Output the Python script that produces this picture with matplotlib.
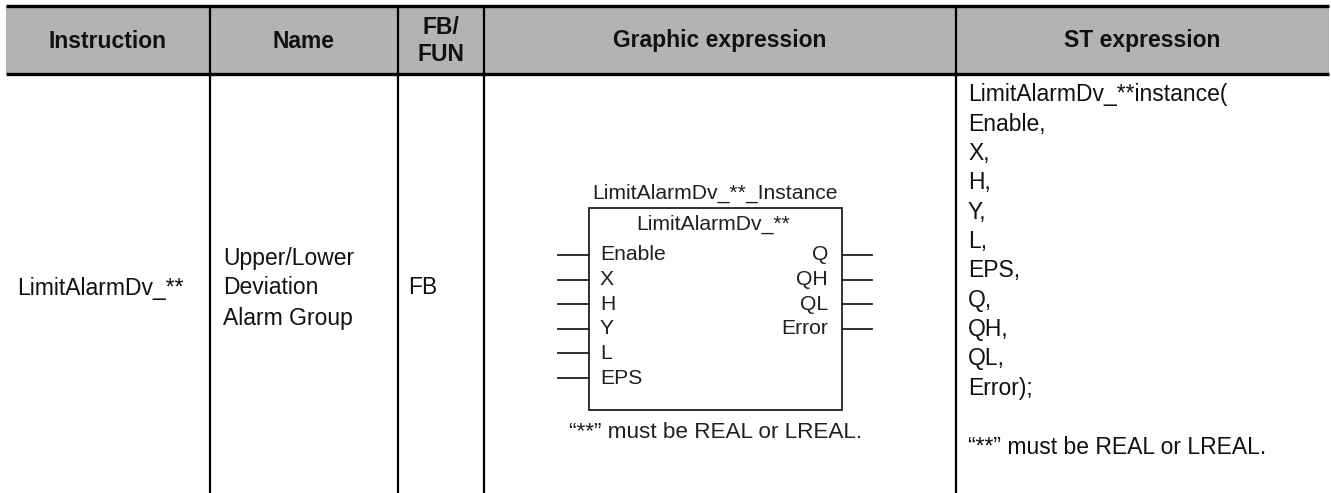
import matplotlib
matplotlib.use("Agg")
import matplotlib.pyplot as plt
from matplotlib.patches import Rectangle

plt.rcParams['font.family'] = ['Liberation Sans', 'DejaVu Sans']

# table content
headers = ["Instruction", "Name", "FB/\nFUN", "Graphic expression", "ST expression"]
instruction = "LimitAlarmDv_**"
name_lines = ["Upper/Lower", "Deviation", "Alarm Group"]
fb_fun = "FB"
instance_label = "LimitAlarmDv_**_Instance"
fb_name = "LimitAlarmDv_**"
inputs = ["Enable", "X", "H", "Y", "L", "EPS"]
outputs = ["Q", "QH", "QL", "Error"]
note = "\u201c**\u201d must be REAL or LREAL."
st_lines = ["LimitAlarmDv_**instance(", "Enable,", "X,", "H,", "Y,", "L,",
            "EPS,", "Q,", "QH,", "QL,", "Error);"]

# layout (pixels)
W, H = 1331, 493
col_x = [6, 210, 398, 484, 956, 1329]
top, head_bot = 6, 74

fig = plt.figure(figsize=(W / 100, H / 100), dpi=100)
ax = fig.add_axes([0, 0, 1, 1])
ax.set_xlim(0, W)
ax.set_ylim(H, 0)
ax.axis('off')

# header band
ax.add_patch(Rectangle((col_x[0], top), col_x[-1] - col_x[0], head_bot - top,
                       facecolor='#b3b3b3', edgecolor='none', zorder=0))
ax.plot([col_x[0], col_x[-1]], [top, top], color='black', lw=2.4, solid_capstyle='butt')
ax.plot([col_x[0], col_x[-1]], [head_bot, head_bot], color='black', lw=2.4, solid_capstyle='butt')
for x in col_x[1:-1]:
    ax.plot([x, x], [top, H], color='black', lw=1.6, solid_capstyle='butt')

for i, h in enumerate(headers):
    cx = (col_x[i] + col_x[i + 1]) / 2
    ax.text(cx, (top + head_bot) / 2 + 1, h, ha='center', va='center',
            fontsize=16.5, fontweight='bold', color='#111111', linespacing=1.25)

# body row
body_fs = 16.5
row_y = 288
ax.text(17, row_y, instruction, ha='left', va='center', fontsize=body_fs, color='#111111')
for i, s in enumerate(name_lines):
    ax.text(223, row_y - 30 + i * 30, s, ha='left', va='center', fontsize=body_fs, color='#111111')
ax.text(408, row_y, fb_fun, ha='left', va='center', fontsize=body_fs, color='#111111')

# function block diagram
bx0, bx1, by0, by1 = 589, 842, 208, 410
dcol = '#231f20'
diag_fs = 15.2
ax.add_patch(Rectangle((bx0, by0), bx1 - bx0, by1 - by0, facecolor='none',
                       edgecolor=dcol, lw=1.3))
ax.text((bx0 + bx1) / 2, 193, instance_label, ha='center', va='center',
        fontsize=diag_fs, color=dcol)
ax.text((bx0 + bx1) / 2 - 2, 224, fb_name, ha='center', va='center',
        fontsize=diag_fs, color=dcol)
pin_y0, pin_dy = 255, 24.6
for i, s in enumerate(inputs):
    y = pin_y0 + i * pin_dy
    ax.plot([558, bx0], [y, y], color=dcol, lw=1.3)
    ax.text(600, y, s, ha='left', va='center', fontsize=diag_fs, color=dcol)
for i, s in enumerate(outputs):
    y = pin_y0 + i * pin_dy
    ax.plot([bx1, 872], [y, y], color=dcol, lw=1.3)
    ax.text(828, y, s, ha='right', va='center', fontsize=diag_fs, color=dcol)
ax.text((bx0 + bx1) / 2, 433, note, ha='center', va='center',
        fontsize=16.2, color=dcol)

# ST expression
st_y0, st_dy = 95, 29.3
for i, s in enumerate(st_lines):
    ax.text(968, st_y0 + i * st_dy, s, ha='left', va='center', fontsize=body_fs, color='#111111')
ax.text(968, 447, note, ha='left', va='center', fontsize=body_fs, color='#111111')

fig.savefig("out.png", dpi=100)
